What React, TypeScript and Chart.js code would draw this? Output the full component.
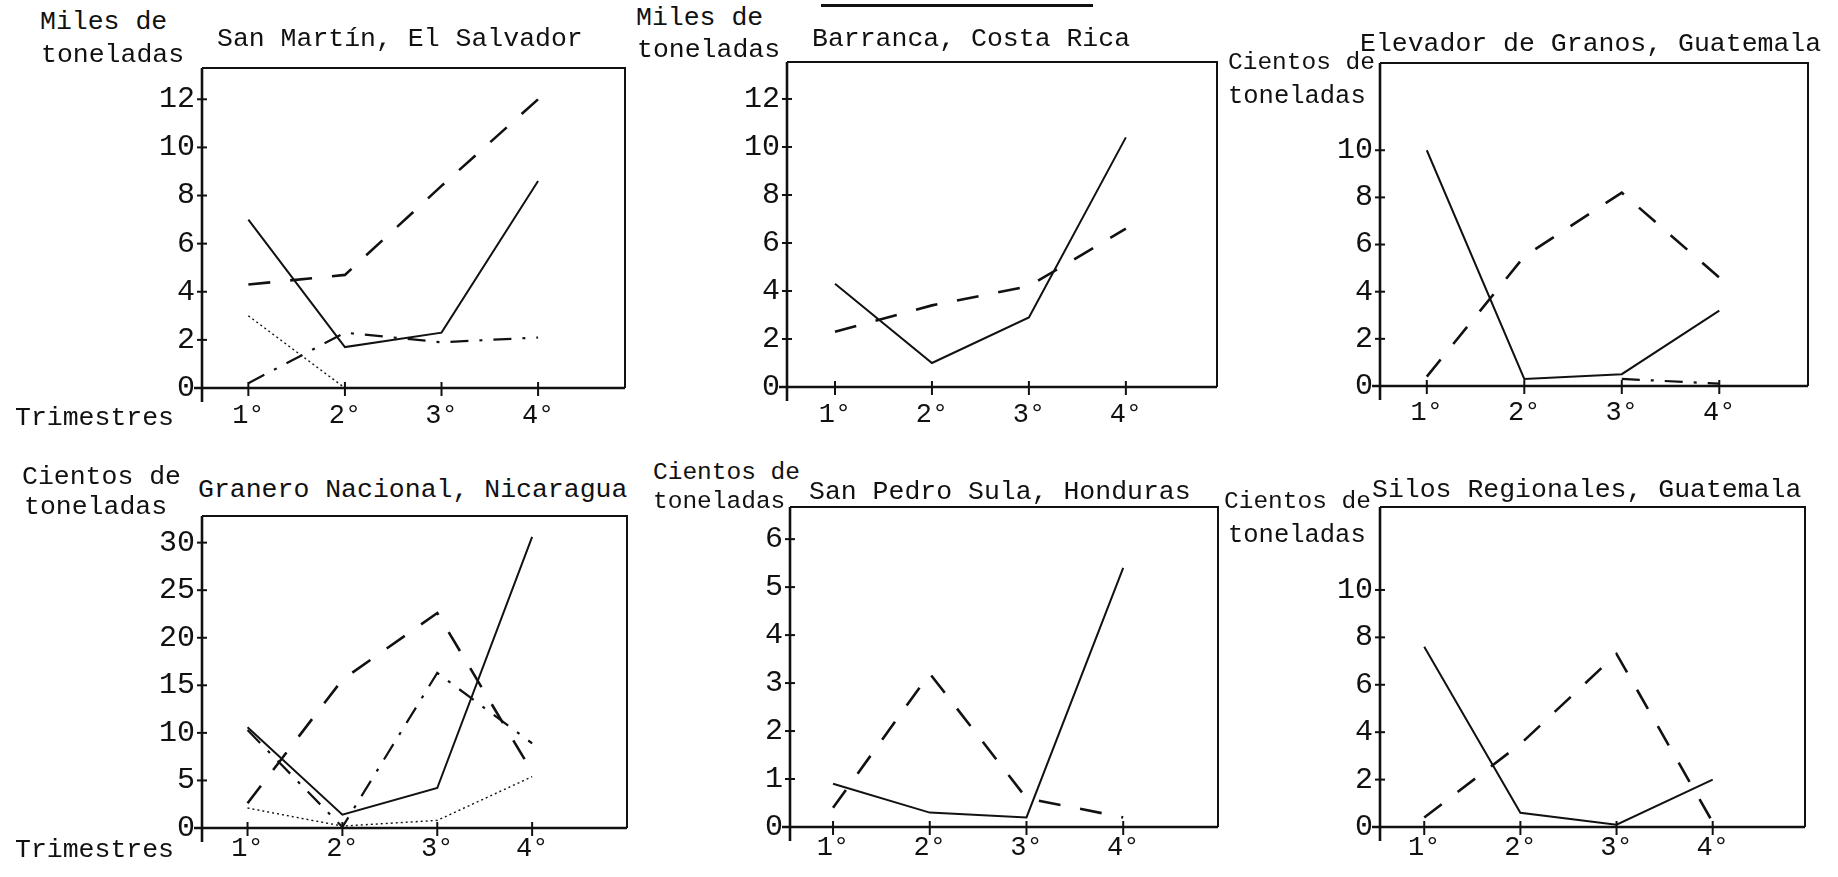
import React, { useEffect, useRef } from "react";
import { Chart, registerables } from "chart.js";

Chart.register(...registerables);

// ---------- data ----------
const QUARTERS = [1, 2, 3, 4];
const QUARTER_LABELS = ["1°", "2°", "3°", "4°"];

const TICKS_0_12 = [0, 2, 4, 6, 8, 10, 12];
const TICKS_0_10 = [0, 2, 4, 6, 8, 10];
const TICKS_0_30 = [0, 5, 10, 15, 20, 25, 30];
const TICKS_0_6 = [0, 1, 2, 3, 4, 5, 6];

// San Martín, El Salvador (miles de toneladas)
const SANMARTIN_SOLID = [7.0, 1.7, 2.3, 8.6];
const SANMARTIN_DASHED = [4.3, 4.7, 8.4, 12.0];
const SANMARTIN_DASHDOT = [0.2, 2.3, 1.9, 2.1];
const SANMARTIN_DOTTED = [3.0, 0, null, null];

// Barranca, Costa Rica (miles de toneladas)
const BARRANCA_SOLID = [4.3, 1.0, 2.9, 10.4];
const BARRANCA_DASHED = [2.3, 3.4, 4.2, 6.6];

// Elevador de Granos, Guatemala (cientos de toneladas)
const ELEVADOR_SOLID = [10.0, 0.3, 0.5, 3.2];
const ELEVADOR_DASHED = [0.4, 5.5, 8.2, 4.6];
const ELEVADOR_DASHDOT = [null, null, 0.3, 0.1];

// Granero Nacional, Nicaragua (cientos de toneladas)
const GRANERO_SOLID = [10.6, 1.4, 4.2, 30.6];
const GRANERO_DASHED = [2.6, 15.6, 22.6, 5.9];
const GRANERO_DASHDOT = [10.3, 0.1, 16.3, 8.9];
const GRANERO_DOTTED = [2.1, 0.2, 0.8, 5.4];

// San Pedro Sula, Honduras (cientos de toneladas)
const SANPEDRO_SOLID = [0.9, 0.3, 0.2, 5.4];
const SANPEDRO_DASHED = [0.4, 3.2, 0.6, 0.2];

// Silos Regionales, Guatemala (cientos de toneladas)
const SILOS_SOLID = [7.6, 0.6, 0.1, 2.0];
const SILOS_DASHED = [0.4, 3.5, 7.3, 0.2];

// ---------- styles ----------
const INK = "#111";
const FONT = "'Liberation Mono', 'Courier New', monospace";

const STYLES: Record<string, { dash: number[]; width: number }> = {
  solid: { dash: [], width: 2 },
  dashed: { dash: [22, 20], width: 2.6 },
  dashDot: { dash: [18, 11, 3, 11], width: 2.2 },
  dotted: { dash: [2, 3], width: 1.4 },
};

type Series = { style: string; values: (number | null)[] };
type PanelCfg = {
  box: { l: number; t: number; r: number; b: number };
  xMin: number;
  xMax: number;
  yMax: number;
  yTicks: number[];
  xPad: number;
  series: Series[];
};

const PANELS: PanelCfg[] = [
  {
    box: { l: 202, t: 68, r: 625, b: 388 },
    xMin: 0.52, xMax: 4.9, yMax: 13.3, yTicks: TICKS_0_12, xPad: 12,
    series: [
      { style: "solid", values: SANMARTIN_SOLID },
      { style: "dashed", values: SANMARTIN_DASHED },
      { style: "dashDot", values: SANMARTIN_DASHDOT },
      { style: "dotted", values: SANMARTIN_DOTTED },
    ],
  },
  {
    box: { l: 787, t: 62, r: 1217, b: 387 },
    xMin: 0.505, xMax: 4.94, yMax: 13.54, yTicks: TICKS_0_12, xPad: 12,
    series: [
      { style: "solid", values: BARRANCA_SOLID },
      { style: "dashed", values: BARRANCA_DASHED },
    ],
  },
  {
    box: { l: 1380, t: 63, r: 1808, b: 386 },
    xMin: 0.52, xMax: 4.91, yMax: 13.7, yTicks: TICKS_0_10, xPad: 11,
    series: [
      { style: "solid", values: ELEVADOR_SOLID },
      { style: "dashed", values: ELEVADOR_DASHED },
      { style: "dashDot", values: ELEVADOR_DASHDOT },
    ],
  },
  {
    box: { l: 202, t: 516, r: 627, b: 828 },
    xMin: 0.52, xMax: 5.0, yMax: 32.8, yTicks: TICKS_0_30, xPad: 5,
    series: [
      { style: "solid", values: GRANERO_SOLID },
      { style: "dashed", values: GRANERO_DASHED },
      { style: "dashDot", values: GRANERO_DASHDOT },
      { style: "dotted", values: GRANERO_DOTTED },
    ],
  },
  {
    box: { l: 790, t: 507, r: 1218, b: 827 },
    xMin: 0.555, xMax: 4.98, yMax: 6.67, yTicks: TICKS_0_6, xPad: 5,
    series: [
      { style: "solid", values: SANPEDRO_SOLID },
      { style: "dashed", values: SANPEDRO_DASHED },
    ],
  },
  {
    box: { l: 1380, t: 507, r: 1805, b: 827 },
    xMin: 0.54, xMax: 4.96, yMax: 13.5, yTicks: TICKS_0_10, xPad: 5,
    series: [
      { style: "solid", values: SILOS_SOLID },
      { style: "dashed", values: SILOS_DASHED },
    ],
  },
];

// text labels: [text, left, centerY, fontSize]
const TEXTS: [string, number, number, number][] = [
  ["Miles de", 40, 22, 26.5],
  ["toneladas", 41, 55, 26.5],
  ["San Martín, El Salvador", 217, 39, 26.5],
  ["Trimestres", 15, 418, 26.5],
  ["Miles de", 636, 18, 26.5],
  ["toneladas", 637, 50, 26.5],
  ["Barranca, Costa Rica", 812, 39, 26.5],
  ["Elevador de Granos, Guatemala", 1360, 44, 26.5],
  ["Cientos de", 1228, 63, 24.5],
  ["toneladas", 1228, 97, 25.5],
  ["Cientos de", 22, 477, 26.5],
  ["toneladas", 24, 507, 26.5],
  ["Granero Nacional, Nicaragua", 198, 490, 26.5],
  ["Trimestres", 15, 850, 26.5],
  ["Cientos de", 653, 473, 24.5],
  ["toneladas", 653, 502, 24.5],
  ["San Pedro Sula, Honduras", 809, 492, 26.5],
  ["Cientos de", 1224, 502, 24.5],
  ["toneladas", 1228, 536, 25.5],
  ["Silos Regionales, Guatemala", 1372, 490, 26.5],
];

const AXIS_W = 70;
const AXIS_H = 50;
const PAD = 8;

const framePlugin = {
  id: "frame",
  beforeDatasetsDraw(chart: any) {
    const { ctx, chartArea } = chart;
    const { left, right, top, bottom } = chartArea;
    ctx.save();
    ctx.strokeStyle = INK;
    ctx.lineCap = "butt";
    ctx.setLineDash([]);
    // top & right frame
    ctx.lineWidth = 2;
    ctx.beginPath();
    ctx.moveTo(left, top);
    ctx.lineTo(right, top);
    ctx.lineTo(right, bottom);
    ctx.stroke();
    // axes with overhang
    ctx.lineWidth = 2.6;
    ctx.beginPath();
    ctx.moveTo(left, top);
    ctx.lineTo(left, bottom + 14);
    ctx.moveTo(left - 8, bottom);
    ctx.lineTo(right, bottom);
    ctx.stroke();
    // tick crosses
    ctx.lineWidth = 2;
    const ys = chart.scales.y;
    ys.ticks.forEach((t: any) => {
      const py = ys.getPixelForValue(t.value);
      ctx.beginPath();
      ctx.moveTo(left - 5, py);
      ctx.lineTo(left + 5, py);
      ctx.stroke();
    });
    const xs = chart.scales.x;
    xs.ticks.forEach((t: any) => {
      const px = xs.getPixelForValue(t.value);
      ctx.beginPath();
      ctx.moveTo(px, bottom - 6);
      ctx.lineTo(px, bottom + 8);
      ctx.stroke();
    });
    ctx.restore();
  },
};

function Panel({ cfg }: { cfg: PanelCfg }) {
  const ref = useRef<HTMLCanvasElement | null>(null);
  const { box } = cfg;
  const cLeft = box.l - AXIS_W;
  const cTop = box.t - PAD;
  const cW = box.r + PAD - cLeft;
  const cH = box.b + AXIS_H - cTop;

  useEffect(() => {
    if (!ref.current) return;
    const datasets = cfg.series.map((s) => {
      const st = STYLES[s.style];
      return {
        data: QUARTERS.map((q, i) => ({ x: q, y: s.values[i] })),
        borderColor: INK,
        borderWidth: st.width,
        borderDash: st.dash,
        pointRadius: 0,
        tension: 0,
        fill: false,
        clip: false as any,
        spanGaps: false,
      };
    });
    const chart = new Chart(ref.current, {
      type: "line",
      data: { datasets },
      plugins: [framePlugin],
      options: {
        responsive: false,
        animation: false,
        layout: {
          padding: { top: PAD, right: PAD, left: 0, bottom: 0 },
          autoPadding: false,
        } as any,
        plugins: {
          legend: { display: false },
          tooltip: { enabled: false },
        },
        scales: {
          x: {
            type: "linear",
            min: cfg.xMin,
            max: cfg.xMax,
            afterBuildTicks: (s: any) => {
              s.ticks = QUARTERS.map((v) => ({ value: v }));
            },
            afterFit: (s: any) => {
              s.height = AXIS_H;
              s.paddingLeft = 0;
              s.paddingRight = 0;
            },
            grid: { display: false, drawTicks: false },
            border: { display: false },
            ticks: {
              color: INK,
              font: { family: FONT, size: 27 },
              padding: cfg.xPad,
              maxRotation: 0,
              autoSkip: false,
              callback: (v: any) => QUARTER_LABELS[QUARTERS.indexOf(Number(v))] ?? "",
            },
          },
          y: {
            type: "linear",
            min: 0,
            max: cfg.yMax,
            afterBuildTicks: (s: any) => {
              s.ticks = cfg.yTicks.map((v) => ({ value: v }));
            },
            afterFit: (s: any) => {
              s.width = AXIS_W;
              s.paddingTop = 0;
              s.paddingBottom = 0;
            },
            grid: { display: false, drawTicks: false },
            border: { display: false },
            ticks: {
              color: INK,
              font: { family: FONT, size: 30 },
              padding: 7,
              autoSkip: false,
              callback: (v: any) => String(v),
            },
          },
        },
      },
    } as any);
    return () => chart.destroy();
  }, [cfg]);

  return (
    <canvas
      ref={ref}
      width={cW}
      height={cH}
      style={{ position: "absolute", left: cLeft, top: cTop, width: cW, height: cH }}
    />
  );
}

export default function App() {
  return (
    <div
      style={{
        position: "absolute",
        left: 0,
        top: 0,
        width: 1838,
        height: 877,
        overflow: "hidden",
        background: "#fff",
      }}
    >
      {PANELS.map((p, i) => (
        <Panel key={i} cfg={p} />
      ))}
      {TEXTS.map(([t, x, cy, fs], i) => (
        <div
          key={"t" + i}
          style={{
            position: "absolute",
            left: x,
            top: cy - 14,
            fontFamily: FONT,
            fontSize: fs,
            lineHeight: "28px",
            color: INK,
            whiteSpace: "pre",
          }}
        >
          {t}
        </div>
      ))}
      <div
        style={{
          position: "absolute",
          left: 821,
          top: 4,
          width: 272,
          height: 0,
          borderTop: "3px solid #111",
        }}
      />
    </div>
  );
}
